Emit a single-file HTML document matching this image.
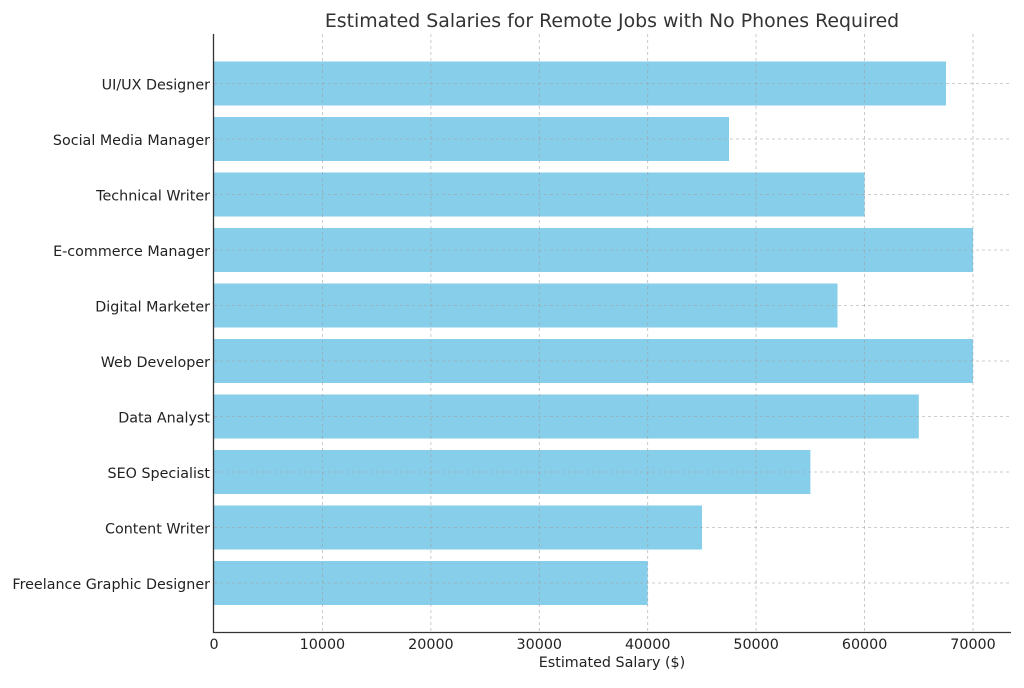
<!DOCTYPE html><html><head><style>body{margin:0;background:#fff}</style></head><body>
<svg width="1024" height="683" xmlns="http://www.w3.org/2000/svg" font-family="DejaVu Sans, Liberation Sans, sans-serif">
<rect width="1024" height="683" fill="#fff"/>
<text x="612" y="27" text-anchor="middle" font-size="18.9" fill="#333">Estimated Salaries for Remote Jobs with No Phones Required</text>
<g fill="#87CEEB">
<rect x="214" y="61.5" width="732" height="44"/>
<rect x="214" y="117" width="515" height="44"/>
<rect x="214" y="172.5" width="650.6" height="44"/>
<rect x="214" y="228" width="759" height="44"/>
<rect x="214" y="283.5" width="623.5" height="44"/>
<rect x="214" y="339" width="759" height="44"/>
<rect x="214" y="394.5" width="704.8" height="44"/>
<rect x="214" y="450" width="596.4" height="44"/>
<rect x="214" y="505.5" width="488" height="44"/>
<rect x="214" y="561" width="433.7" height="44"/>
</g>
<g stroke="#a0a0a0" stroke-opacity="0.7" stroke-dasharray="3,3" stroke-width="0.8">
<line x1="322.4" y1="34" x2="322.4" y2="632"/><line x1="430.9" y1="34" x2="430.9" y2="632"/><line x1="539.3" y1="34" x2="539.3" y2="632"/><line x1="647.7" y1="34" x2="647.7" y2="632"/><line x1="756.1" y1="34" x2="756.1" y2="632"/><line x1="864.6" y1="34" x2="864.6" y2="632"/><line x1="973" y1="34" x2="973" y2="632"/>
<line x1="214" y1="83.5" x2="1011" y2="83.5"/><line x1="214" y1="139" x2="1011" y2="139"/><line x1="214" y1="194.5" x2="1011" y2="194.5"/><line x1="214" y1="250" x2="1011" y2="250"/><line x1="214" y1="305.5" x2="1011" y2="305.5"/><line x1="214" y1="361" x2="1011" y2="361"/><line x1="214" y1="416.5" x2="1011" y2="416.5"/><line x1="214" y1="472" x2="1011" y2="472"/><line x1="214" y1="527.5" x2="1011" y2="527.5"/><line x1="214" y1="583" x2="1011" y2="583"/>
</g>
<g stroke="#333" stroke-width="1.3"><line x1="213.5" y1="34" x2="213.5" y2="633"/><line x1="213" y1="632.5" x2="1011" y2="632.5"/></g>
<g font-size="14.3" fill="#222" text-anchor="end">
<text x="210" y="89.5">UI/UX Designer</text><text x="210" y="145">Social Media Manager</text><text x="210" y="200.5">Technical Writer</text><text x="210" y="256">E-commerce Manager</text><text x="210" y="311.5">Digital Marketer</text><text x="210" y="367">Web Developer</text><text x="210" y="422.5">Data Analyst</text><text x="210" y="478">SEO Specialist</text><text x="210" y="533.5">Content Writer</text><text x="210" y="589">Freelance Graphic Designer</text>
</g>
<g font-size="14.3" fill="#222" text-anchor="middle">
<text x="214" y="649">0</text><text x="322.4" y="649">10000</text><text x="430.9" y="649">20000</text><text x="539.3" y="649">30000</text><text x="647.7" y="649">40000</text><text x="756.1" y="649">50000</text><text x="864.6" y="649">60000</text><text x="973" y="649">70000</text>
<text x="612" y="667">Estimated Salary ($)</text>
</g>
</svg></body></html>
